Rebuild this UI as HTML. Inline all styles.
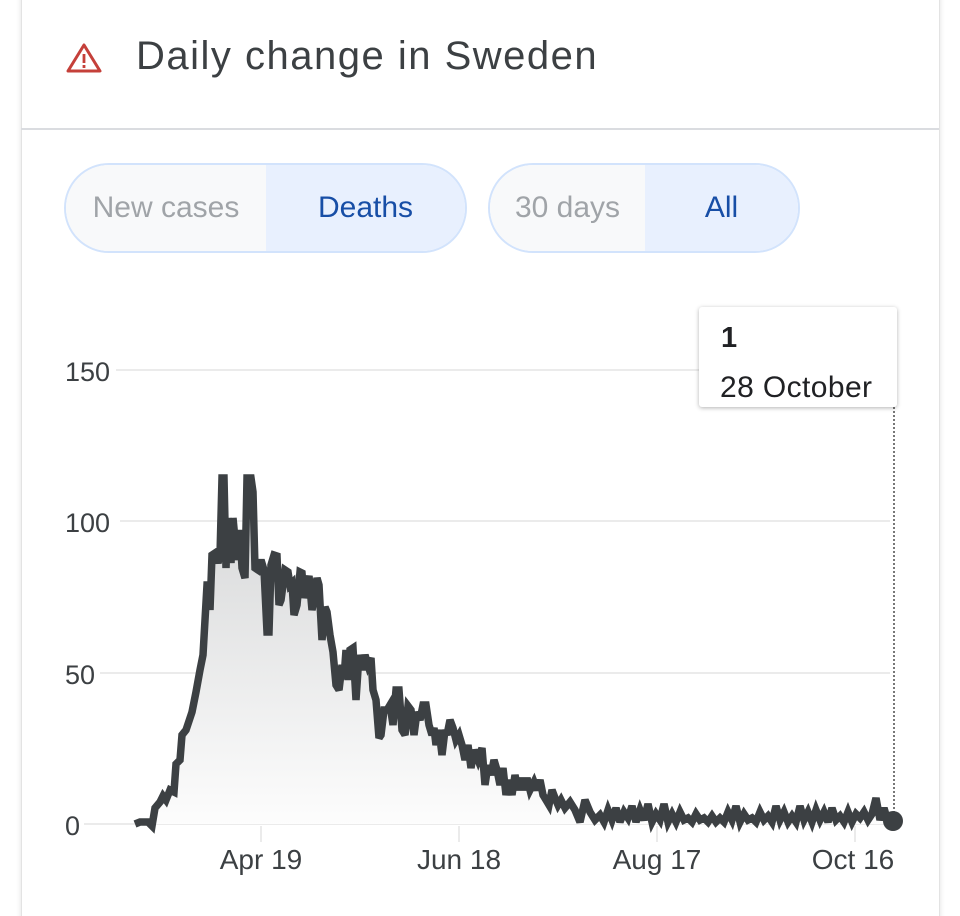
<!DOCTYPE html>
<html style="width:960px;height:916px;overflow:hidden"><head><meta charset="utf-8"><style>
body{margin:0;width:960px;height:916px;background:#fff;overflow:hidden;position:relative;font-family:"Liberation Sans",Roboto,sans-serif;}
.wrap{position:absolute;left:0;top:0;width:960px;height:916px;overflow:hidden;}
.card{position:absolute;left:21px;top:-10px;width:917px;height:960px;border:1px solid #e3e3e3;border-radius:8px;box-shadow:0 0 6px rgba(0,0,0,0.12);background:#fff;}
.hdr{position:absolute;left:21px;top:128px;width:918px;height:2px;background:#dadce0;}
.title{position:absolute;left:136px;top:34px;font-size:40px;color:#3c4043;letter-spacing:1.5px;}
.pill{position:absolute;top:163px;height:86px;border:2px solid #d2e3fc;border-radius:45px;overflow:hidden;display:flex;font-size:30px;}
.pill div{display:flex;align-items:center;justify-content:center;height:100%;}
.off{background:#f8f9fa;color:#a0a4a8;}
.on{background:#e8f0fe;color:#174ea6;}
.tip{position:absolute;left:699px;top:307px;width:198px;height:100px;background:#fff;border-radius:3px;box-shadow:0 1px 4px rgba(0,0,0,0.3);}
</style></head><body><div class="wrap">
<div class="card"></div>
<div class="hdr"></div>
<svg style="position:absolute;left:65px;top:42px" width="38" height="32" viewBox="0 0 38 32"><path d="M19 3 L35 29 L3 29 Z" fill="none" stroke="#c5403a" stroke-width="3" stroke-linejoin="round"/><rect x="17.6" y="12" width="2.8" height="9" fill="#c5403a"/><rect x="17.6" y="23" width="2.8" height="3" fill="#c5403a"/></svg>
<div class="title">Daily change in Sweden</div>
<div class="pill" style="left:64px;width:399px"><div class="off" style="width:200px">New cases</div><div class="on" style="width:199px">Deaths</div></div>
<div class="pill" style="left:488px;width:308px"><div class="off" style="width:155px">30 days</div><div class="on" style="width:153px">All</div></div>
<svg style="position:absolute;left:0;top:0" width="960" height="916">
<defs><linearGradient id="g" x1="0" y1="0" x2="0" y2="1"><stop offset="0" stop-color="#d4d5d6"/><stop offset="1" stop-color="#fdfdfd"/></linearGradient></defs>
<g stroke="#ebebeb" stroke-width="2">
<line x1="116" y1="370" x2="890" y2="370"/><line x1="120" y1="521" x2="890" y2="521"/><line x1="100" y1="673" x2="890" y2="673"/><line x1="84" y1="824" x2="890" y2="824"/>
<line x1="261" y1="826" x2="261" y2="842"/><line x1="459" y1="826" x2="459" y2="842"/><line x1="657" y1="826" x2="657" y2="842"/><line x1="855" y1="826" x2="855" y2="842"/>
</g>
<g font-size="27" fill="#3c4043" font-family="Liberation Sans,sans-serif">
<text x="65" y="381">150</text><text x="65" y="532">100</text><text x="65" y="684">50</text><text x="65" y="835">0</text>
</g>
<g font-size="28" fill="#3c4043" font-family="Liberation Sans,sans-serif" text-anchor="middle">
<text x="261" y="869">Apr 19</text><text x="459" y="869">Jun 18</text><text x="657" y="869">Aug 17</text><text x="853" y="869">Oct 16</text>
</g>
<line x1="894" y1="407" x2="894" y2="818" stroke="#777" stroke-width="2" stroke-dasharray="2,2"/>
<polygon fill="url(#g)" points="135,824 140,822 148,822 152,826 155,808 160,802 163,796 166,800 170,790 174,792 176,764 180,760 182,735 186,730 192,712 196,692 200,670 203,655 205,620 207,585 209,585 210,610 212,555 215,553 218,563 220,555 222,478 224,478 226,568 228,518 231,563 233,518 237,560 240,530 242,568 245,578 247,478 251,478 253,492 255,568 258,570 261,560 264,570 267,632 269,632 271,565 274,555 277,556 279,605 281,600 285,570 288,572 290,585 292,583 294,615 297,605 300,572 302,573 304,598 307,583 309,576 312,610 314,600 317,578 319,585 322,640 325,607 327,612 330,635 333,652 336,685 339,690 342,665 344,678 346,650 348,680 350,650 353,648 356,700 359,655 362,670 365,655 368,665 371,658 373,690 376,700 379,738 381,735 384,710 387,710 390,705 393,725 396,690 399,690 402,730 405,735 408,706 411,710 414,735 417,712 420,720 423,705 426,705 429,725 432,735 434,728 436,745 439,730 442,755 445,730 447,735 450,720 453,728 456,740 459,735 462,745 465,760 468,745 471,768 474,750 478,760 482,748 485,785 488,765 491,775 494,760 497,770 500,785 503,768 506,795 509,780 512,795 515,775 518,790 521,778 524,790 527,778 530,790 534,782 537,790 540,780 543,795 546,800 549,805 552,790 555,798 558,805 561,800 565,808 570,802 575,810 580,822 585,800 590,812 595,820 600,815 604,822 608,810 612,820 616,808 620,822 624,812 628,818 632,806 636,822 640,810 644,820 648,804 652,822 656,814 660,820 664,804 668,822 672,814 676,822 680,812 684,820 688,818 692,822 696,814 700,820 704,818 708,822 712,816 716,822 720,818 724,822 728,812 732,820 736,806 740,822 744,814 748,820 752,818 756,822 760,812 764,820 768,816 772,822 776,806 780,820 784,812 788,822 792,816 796,822 800,806 804,820 808,812 812,822 816,810 820,820 824,812 828,822 832,808 836,820 840,816 844,822 848,812 852,822 856,814 860,818 864,812 868,820 872,814 876,798 880,820 884,808 888,822 893,820 893,824"/>
<polyline fill="none" stroke="#3c4043" stroke-width="7.5" stroke-linejoin="miter" stroke-miterlimit="3" points="135,824 140,822 148,822 152,826 155,808 160,802 163,796 166,800 170,790 174,792 176,764 180,760 182,735 186,730 192,712 196,692 200,670 203,655 205,620 207,585 209,585 210,610 212,555 215,553 218,563 220,555 222,478 224,478 226,568 228,518 231,563 233,518 237,560 240,530 242,568 245,578 247,478 251,478 253,492 255,568 258,570 261,560 264,570 267,632 269,632 271,565 274,555 277,556 279,605 281,600 285,570 288,572 290,585 292,583 294,615 297,605 300,572 302,573 304,598 307,583 309,576 312,610 314,600 317,578 319,585 322,640 325,607 327,612 330,635 333,652 336,685 339,690 342,665 344,678 346,650 348,680 350,650 353,648 356,700 359,655 362,670 365,655 368,665 371,658 373,690 376,700 379,738 381,735 384,710 387,710 390,705 393,725 396,690 399,690 402,730 405,735 408,706 411,710 414,735 417,712 420,720 423,705 426,705 429,725 432,735 434,728 436,745 439,730 442,755 445,730 447,735 450,720 453,728 456,740 459,735 462,745 465,760 468,745 471,768 474,750 478,760 482,748 485,785 488,765 491,775 494,760 497,770 500,785 503,768 506,795 509,780 512,795 515,775 518,790 521,778 524,790 527,778 530,790 534,782 537,790 540,780 543,795 546,800 549,805 552,790 555,798 558,805 561,800 565,808 570,802 575,810 580,822 585,800 590,812 595,820 600,815 604,822 608,810 612,820 616,808 620,822 624,812 628,818 632,806 636,822 640,810 644,820 648,804 652,822 656,814 660,820 664,804 668,822 672,814 676,822 680,812 684,820 688,818 692,822 696,814 700,820 704,818 708,822 712,816 716,822 720,818 724,822 728,812 732,820 736,806 740,822 744,814 748,820 752,818 756,822 760,812 764,820 768,816 772,822 776,806 780,820 784,812 788,822 792,816 796,822 800,806 804,820 808,812 812,822 816,810 820,820 824,812 828,822 832,808 836,820 840,816 844,822 848,812 852,822 856,814 860,818 864,812 868,820 872,814 876,798 880,820 884,808 888,822 893,820"/>
<circle cx="893" cy="821" r="10" fill="#3c4043"/>
</svg>
<div class="tip"></div>
<div style="position:absolute;left:721px;top:322px;font-size:29px;font-weight:bold;color:#202124">1</div>
<div style="position:absolute;left:720px;top:371px;font-size:30px;color:#202124;letter-spacing:0.4px">28 October</div>
</div></body></html>
